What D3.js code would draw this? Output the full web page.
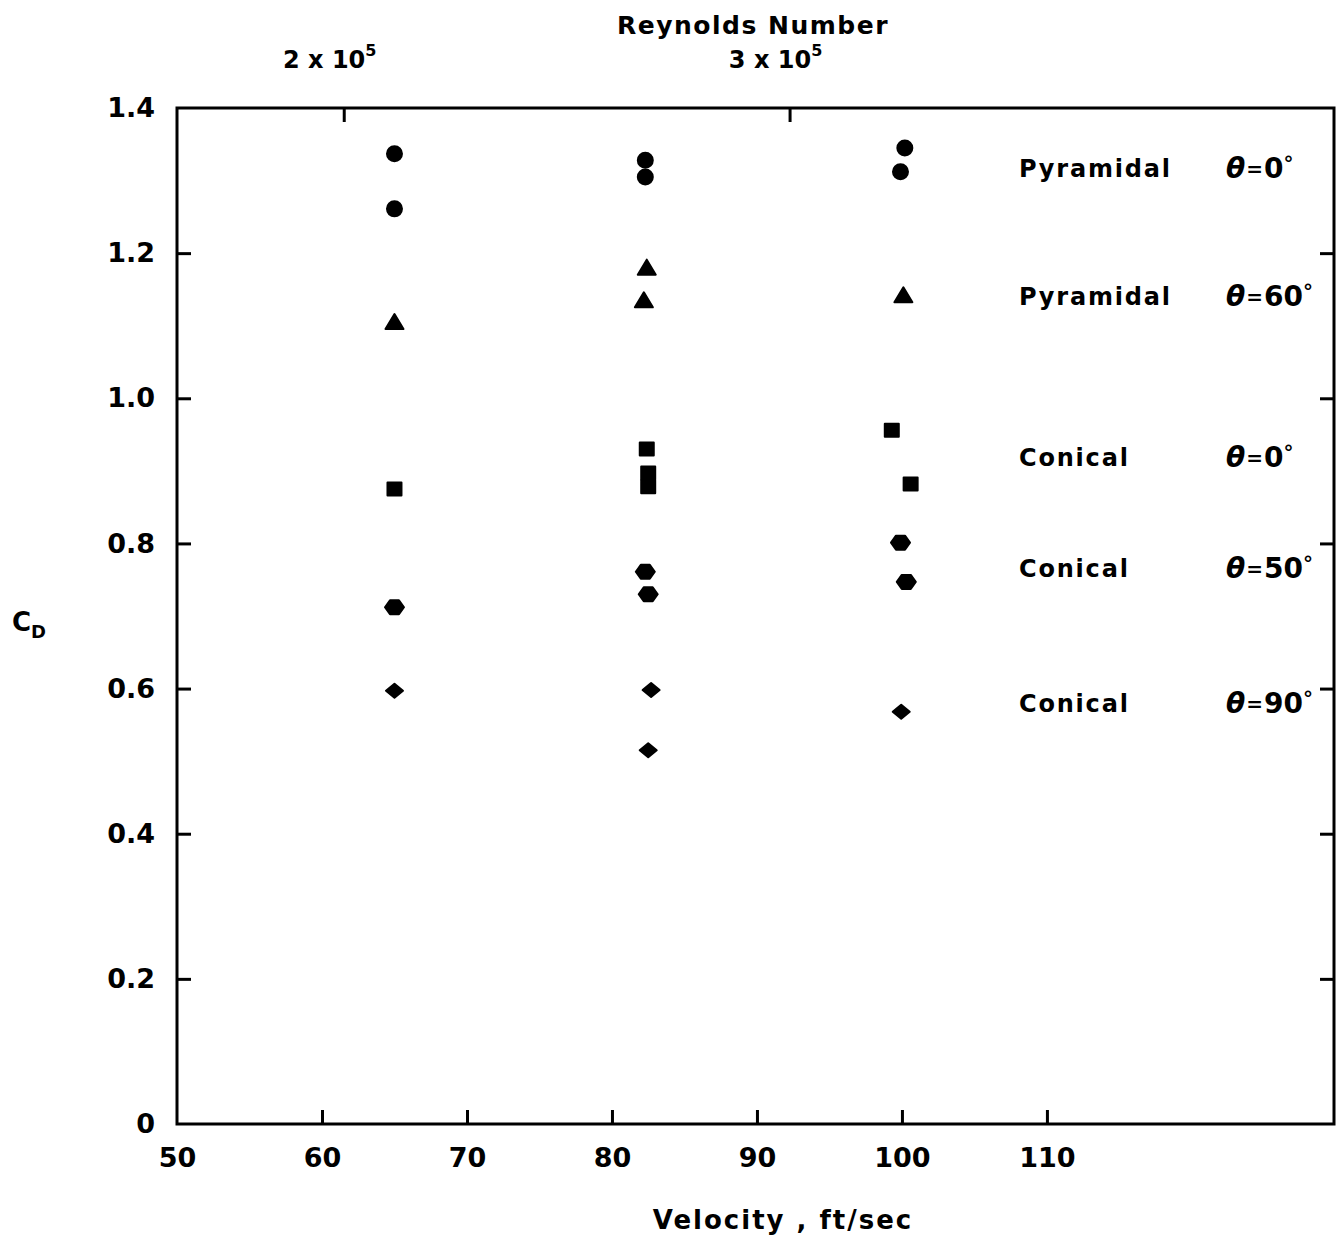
<!DOCTYPE html>
<html>
<head>
<meta charset="utf-8">
<script src="https://cdn.jsdelivr.net/npm/d3@7"></script>
<style>
  html, body { margin: 0; padding: 0; background: #fff; }
  svg text { font-family: "DejaVu Sans", sans-serif; fill: #000; }
</style>
</head>
<body>
<svg id="chart" width="1343" height="1239"></svg>
<script>
// Drag coefficient vs. velocity for pyramidal and conical bodies.
// Each point: [velocity ft/sec, C_D]
const pyramidal0  = [[65.0, 1.337], [65.0, 1.261], [82.3, 1.328], [82.3, 1.305], [100.2, 1.345], [99.9, 1.312]];
const pyramidal60 = [[65.0, 1.105], [82.4, 1.180], [82.2, 1.135], [100.1, 1.142]];
const conical0    = [[65.0, 0.875], [82.4, 0.930], [82.5, 0.897], [82.5, 0.878], [99.3, 0.956], [100.6, 0.882]];
const conical50   = [[65.0, 0.712], [82.3, 0.761], [82.5, 0.730], [99.9, 0.801], [100.3, 0.747]];
const conical90   = [[65.0, 0.597], [82.7, 0.598], [82.5, 0.515], [99.95, 0.568]];

// Series labels and the C_D level each label sits beside
const seriesNames  = ["Pyramidal", "Pyramidal", "Conical", "Conical", "Conical"];
const seriesAngles = ["0", "60", "0", "50", "90"];
const labelLevels  = [1.317, 1.141, 0.919, 0.766, 0.580];

// Axis ticks
const velocityTicks = [50, 60, 70, 80, 90, 100, 110];
const cdTicks = [0, 0.2, 0.4, 0.6, 0.8, 1.0, 1.2, 1.4];
const reynoldsTicks = [2e5, 3e5];
const reynoldsLabels = [["2 x 10", "5"], ["3 x 10", "5"]];
const reynoldsPerVelocity = 2e5 / 61.5;  // Re per ft/sec for this model size

const svg = d3.select("#chart");
const L = 177, R = 1334, T = 108, B = 1124;

const x = d3.scaleLinear().domain([50, 129.8]).range([L, R]);
const y = d3.scaleLinear().domain([0, 1.4]).range([B, T]);
const xRe = d3.scaleLinear()
  .domain([50 * reynoldsPerVelocity, 129.8 * reynoldsPerVelocity]).range([L, R]);

const axisStroke = 3, tickLen = 14;

function styleAxis(g) {
  g.select(".domain").remove();
  g.selectAll(".tick line").attr("stroke", "#000").attr("stroke-width", axisStroke);
  g.selectAll(".tick text").attr("font-size", 27).attr("font-weight", "bold").attr("fill", "#000")
    .attr("font-family", "DejaVu Sans, sans-serif");
}

// Bottom axis: velocity
svg.append("g").attr("transform", `translate(0,${B})`)
  .call(d3.axisBottom(x).tickValues(velocityTicks).tickSize(-tickLen).tickPadding(24)
    .tickFormat(d3.format("d")))
  .call(styleAxis)
  .call(g => g.selectAll(".tick").filter(d => d === 50).select("line").remove());

// Left axis: C_D
svg.append("g").attr("transform", `translate(${L},0)`)
  .call(d3.axisLeft(y).tickValues(cdTicks).tickSize(-tickLen).tickPadding(22)
    .tickFormat(d => d === 0 ? "0" : d.toFixed(1)))
  .call(styleAxis)
  .call(g => g.selectAll(".tick").filter(d => d === 0 || d === 1.4).select("line").remove());

// Right axis: ticks only
svg.append("g").attr("transform", `translate(${R},0)`)
  .call(d3.axisRight(y).tickValues(cdTicks.filter(d => d > 0 && d < 1.4)).tickSize(-tickLen).tickFormat(""))
  .call(styleAxis);

// Top axis: Reynolds number
svg.append("g").attr("transform", `translate(0,${T})`)
  .call(d3.axisTop(xRe).tickValues(reynoldsTicks).tickSize(-tickLen).tickFormat(""))
  .call(styleAxis);

reynoldsTicks.forEach((r, i) => {
  const t = svg.append("text")
    .attr("x", xRe(r) - 14).attr("y", 68)
    .attr("text-anchor", "middle")
    .attr("font-size", 24).attr("font-weight", "bold");
  t.append("tspan").text(reynoldsLabels[i][0]);
  t.append("tspan").attr("dy", -12).attr("font-size", 16).text(reynoldsLabels[i][1]);
});

// Frame
svg.append("rect").attr("x", L).attr("y", T).attr("width", R - L).attr("height", B - T)
  .attr("fill", "none").attr("stroke", "#000").attr("stroke-width", axisStroke);

// Axis titles
svg.append("text").attr("x", 753).attr("y", 34).attr("text-anchor", "middle")
  .attr("font-size", 25).attr("font-weight", "bold").attr("letter-spacing", 1.5)
  .text("Reynolds Number");
svg.append("text").attr("x", 783).attr("y", 1229).attr("text-anchor", "middle")
  .attr("font-size", 26).attr("font-weight", "bold").attr("letter-spacing", 2)
  .text("Velocity , ft/sec");
const cd = svg.append("text").attr("x", 12).attr("y", 631).attr("font-size", 26).attr("font-weight", "bold");
cd.append("tspan").text("C");
cd.append("tspan").attr("dy", 7).attr("font-size", 18).text("D");

// Marker shapes as custom symbol types
const circleSym = { draw(c) { c.moveTo(7.5, 0); c.arc(0, 0, 7.5, 0, 2 * Math.PI); } };
const triangleSym = { draw(c) { c.moveTo(0, -8); c.lineTo(9, 7); c.lineTo(-9, 7); c.closePath(); } };
const squareSym = { draw(c) { c.moveTo(-7, -6.5); c.lineTo(7, -6.5); c.lineTo(7, 6.5); c.lineTo(-7, 6.5); c.closePath(); } };
const hexagonSym = { draw(c) { c.moveTo(-9.5, 0); c.lineTo(-4.5, -7); c.lineTo(4.5, -7); c.lineTo(9.5, 0); c.lineTo(4.5, 7); c.lineTo(-4.5, 7); c.closePath(); } };
const diamondSym = { draw(c) { c.moveTo(-8.5, 0); c.lineTo(0, -7); c.lineTo(8.5, 0); c.lineTo(0, 7); c.closePath(); } };

const seriesData = [pyramidal0, pyramidal60, conical0, conical50, conical90];
const seriesShapes = [circleSym, triangleSym, squareSym, hexagonSym, diamondSym];

const marks = svg.append("g");
seriesData.forEach((data, i) => {
  marks.selectAll(null).data(data).enter().append("path")
    .attr("d", d3.symbol().type(seriesShapes[i])())
    .attr("transform", d => `translate(${x(d[0])},${y(d[1])})`)
    .attr("fill", "#000").attr("stroke", "#000").attr("stroke-width", 2)
    .attr("stroke-linejoin", "round");
});

// Series labels
labelLevels.forEach((lv, i) => {
  svg.append("text").attr("x", 1019).attr("y", y(lv) + 9)
    .attr("font-size", 24).attr("font-weight", "bold").attr("letter-spacing", 1.8)
    .text(seriesNames[i]);
  const t = svg.append("text").attr("x", 1226).attr("y", y(lv) + 10)
    .attr("font-size", 28).attr("font-weight", "bold");
  t.append("tspan").attr("font-style", "italic").text("θ");
  t.append("tspan").attr("font-size", 20).attr("dx", 1).attr("dy", -2).text("=");
  t.append("tspan").attr("dx", 1).attr("dy", 2).text(seriesAngles[i]);
  t.append("tspan").attr("font-size", 20).attr("dy", -8).text("°");
});
</script>
</body>
</html>
